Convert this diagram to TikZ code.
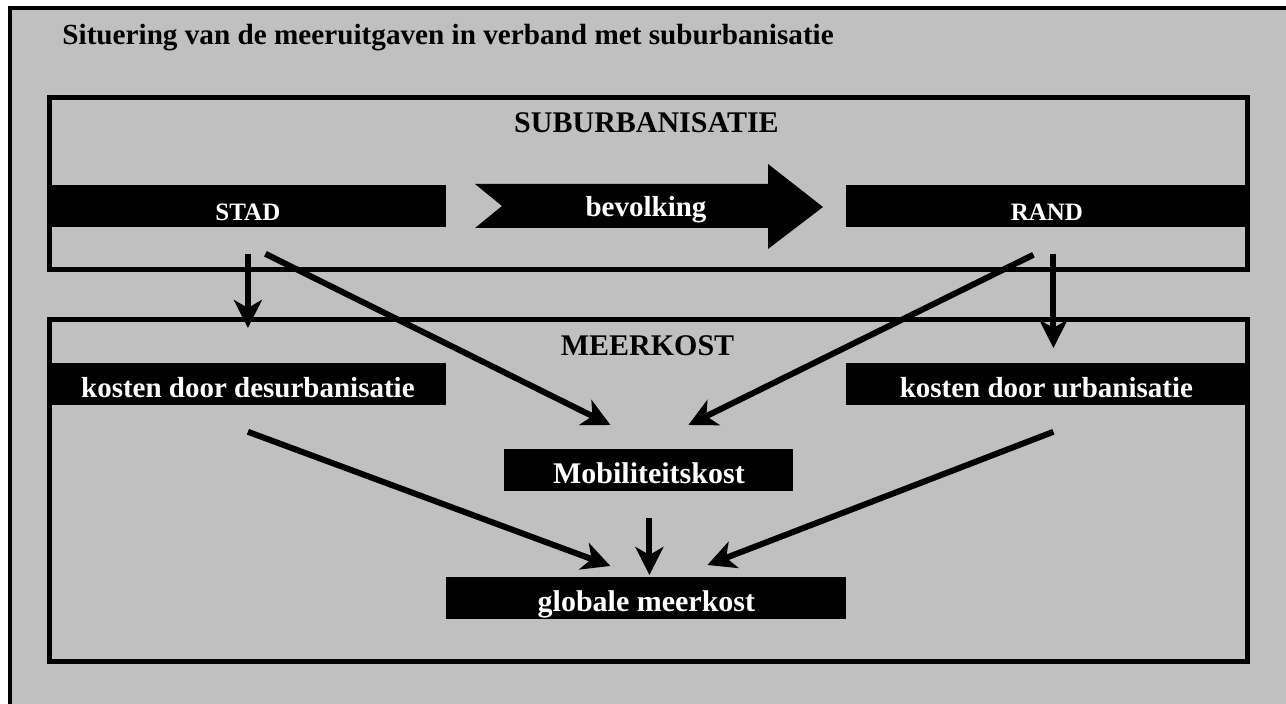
\documentclass[tikz,border=0pt]{standalone}
\usepackage{fontspec}
\setmainfont{Liberation Serif}
\usetikzlibrary{arrows.meta}
\definecolor{panelgray}{RGB}{192,192,192}

\begin{document}
\begin{tikzpicture}[x=0.5pt, y=-0.5pt,
		bar/.style={fill=black, text=white, anchor=north west, inner xsep=0pt, inner ysep=0pt, minimum height=21pt, text height=17pt, text depth=4pt, font=\fontsize{15}{18}\selectfont\bfseries},
		smallbar/.style={bar, text height=17.5pt, text depth=3.5pt, font=\fontsize{12.5}{15}\selectfont\bfseries},
		costbar/.style={bar, font=\fontsize{14.5}{17}\selectfont\bfseries},
		head/.style={anchor=base, inner sep=0pt, font=\fontsize{15}{18}\selectfont\bfseries},
		frame/.style={draw=black, line width=2.5pt},
		conn/.style={-{Stealth[length=14pt, width=14pt, inset=4pt]}, line width=3pt}]
		\useasboundingbox (0,0) rectangle (1286,704);
		
		\fill[panelgray] (10,8) rectangle (1286,704);
		\draw[line width=2pt] (10,704) -- (10,8) -- (1286,8);
		\node[head, anchor=base west, font=\fontsize{14.6}{18}\selectfont\bfseries] (title) at (62,45) {Situering van de meeruitgaven in verband met suburbanisatie};
		
		\draw[frame] (49,98) rectangle (1247,270);
		\node[head] (suburb) at (646.5,133) {SUBURBANISATIE};
		\node[smallbar, minimum width=198.5pt] (stad) at (49,185) {STAD};
		\node[smallbar, minimum width=200.5pt] (rand) at (846,185) {RAND};
		\fill (475,184) -- (768,184) -- (768,164) -- (823,207) -- (768,249) -- (768,228) -- (475,228) -- (502,206) -- cycle;
		\node[head, text=white, font=\fontsize{14.5}{17}\selectfont\bfseries] (bev) at (646,217) {bevolking};
		
		\draw[frame] (49,320) rectangle (1247,662);
		\node[head] (meerkost) at (647.5,356) {MEERKOST};
		\node[costbar, minimum width=198.5pt] (desurb) at (49,363) {kosten door desurbanisatie};
		\node[costbar, minimum width=200pt] (urb) at (846,363) {kosten door urbanisatie};
		\node[bar, minimum width=144.5pt] (mob) at (504,449) {Mobiliteitskost};
		\node[bar, minimum width=200pt] (glob) at (446,577) {globale meerkost};
		
		\draw[conn] ([shift={(0,26)}]stad.south) -- ([shift={(0,-35)}]desurb.north);
		\draw[conn] ([shift={(17.5,26)}]stad.south) -- ([shift={(-38.5,-24)}]mob.north);
		\draw[conn] ([shift={(-13.5,27)}]rand.south) -- ([shift={(39.5,-24)}]mob.north);
		\draw[conn] ([shift={(6.5,26)}]rand.south) -- ([shift={(7,-15)}]urb.north);
		\draw[conn] ([shift={(0,26)}]desurb.south) -- ([shift={(-36,-11)}]glob.north);
		\draw[conn] ([shift={(7,26)}]urb.south) -- ([shift={(61,-12)}]glob.north);
		\draw[conn] ([shift={(0.5,26)}]mob.south) -- ([shift={(3,-2)}]glob.north);
	\end{tikzpicture}
\end{document}
